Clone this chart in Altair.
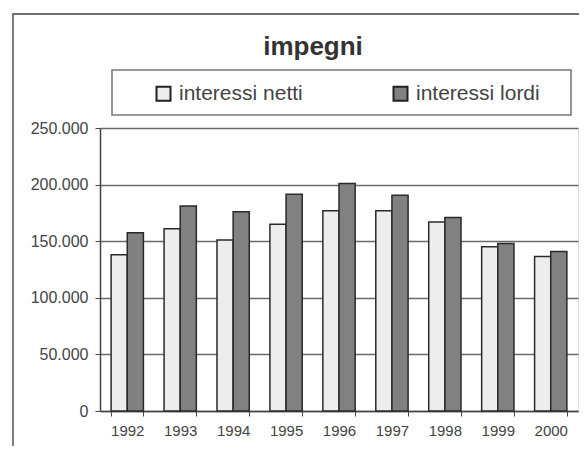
import altair as alt
import pandas as pd

years = ["1992", "1993", "1994", "1995", "1996", "1997", "1998", "1999", "2000"]
netti = [138000, 161000, 151000, 165000, 177000, 177000, 167000, 145000, 136500]
lordi = [157500, 181000, 176000, 191500, 201000, 190500, 171000, 148000, 141000]
series = ["interessi netti", "interessi lordi"]
colors = ["#ededed", "#818181"]
title_text = "impegni"
y_ticks = [0, 50000, 100000, 150000, 200000, 250000]

rows = []
for i, yr in enumerate(years):
    rows.append({"anno": yr, "serie": series[0], "valore": netti[i]})
    rows.append({"anno": yr, "serie": series[1], "valore": lordi[i]})
df = pd.DataFrame(rows)

W, H = 478, 283
FONT = "Liberation Sans"
one = alt.Data(values=[{"k": 1}])

frame = alt.Chart(one).mark_rect(fill="white", fillOpacity=0, stroke="#707070", strokeWidth=1.8).encode(
    x=alt.value(-87), x2=alt.value(W + 40), y=alt.value(-114), y2=alt.value(H + 80)
)

legend_box = alt.Chart(one).mark_rect(fill="white", stroke="#7a7a7a", strokeWidth=1.6).encode(
    x=alt.value(12), x2=alt.value(471), y=alt.value(-58), y2=alt.value(-13)
)

title = alt.Chart(one).mark_text(
    text=title_text, font=FONT, fontSize=26, fontWeight="bold", color="#333333",
    align="center", baseline="alphabetic"
).encode(x=alt.value(213), y=alt.value(-73))

bars = alt.Chart(df).mark_bar(stroke="#2a2a2a", strokeWidth=1.5).encode(
    x=alt.X("anno:N", sort=years, title=None,
            scale=alt.Scale(paddingInner=0.39, paddingOuter=0.21),
            axis=alt.Axis(labelAngle=0, tickBand="extent", grid=False, tickSize=5,
                          labelPadding=7, labelFontSize=15, labelFont=FONT, labelColor="#444444",
                          domainColor="#444444", domainWidth=1.5, tickColor="#444444")),
    xOffset=alt.XOffset("serie:N", sort=series),
    y=alt.Y("valore:Q", title=None,
            scale=alt.Scale(domain=[0, 250000], nice=False),
            axis=alt.Axis(values=y_ticks, labelExpr="replace(format(datum.value, ','), ',', '.')",
                          tickSize=5, labelPadding=7, labelFontSize=16, labelFont=FONT,
                          labelColor="#444444", domainColor="#444444", domainWidth=1.5,
                          tickColor="#444444", gridColor="#6a6a6a", gridWidth=1.3)),
    color=alt.Color("serie:N", sort=series,
                    scale=alt.Scale(domain=series, range=colors),
                    legend=alt.Legend(title=None, orient="none", legendX=53, legendY=-45,
                                      direction="horizontal", symbolType="square", symbolSize=196,
                                      symbolStrokeColor="#222222", symbolStrokeWidth=2,
                                      labelFontSize=21, labelFont=FONT, labelColor="#444444",
                                      labelOffset=5, columnPadding=86, padding=0)),
)

chart = alt.layer(frame, legend_box, title, bars).properties(
    width=W, height=H,
    autosize=alt.AutoSizeParams(type="none"),
    padding={"left": 92, "top": 120, "right": 1, "bottom": 35},
).configure_view(fill="#e6e6e6", stroke="#707070", strokeWidth=1.3).configure(background="white")

chart.save("out.html", embed_options={"renderer": "svg", "actions": False})
